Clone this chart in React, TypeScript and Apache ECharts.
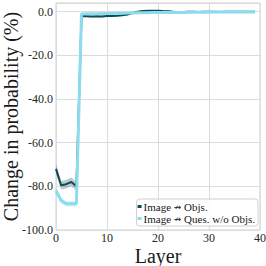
import React, { useEffect, useRef } from "react";
import * as echarts from "echarts";

const layers: number[] = Array.from({ length: 40 }, (_, i) => i);

const objsValues = [
  -72, -79.5, -79, -78, -80, -2, -2.1, -2.2, -2.1, -2.2, -2, -1.9, -1.8, -1.6, -1.3,
  -0.6, 0, 0.3, 0.4, 0.5, 0.5, 0.3, 0.2, 0, -0.1, -0.1, 0, 0, -0.1, 0, 0, 0, -0.1, 0,
  0, 0, 0, 0, 0, 0,
];
const objsErr = [
  2.5, 2, 2, 2, 2, 0.4, 0.4, 0.4, 0.4, 0.4, 0.4, 0.4, 0.4, 0.4, 0.3, 0.3, 0.3, 0.3,
  0.3, 0.3, 0.3, 0.2, 0.2, 0.2, 0.2, 0.2, 0.2, 0.2, 0.2, 0.2, 0.2, 0.2, 0.2, 0.2, 0.2,
  0.2, 0.2, 0.2, 0.2, 0.2,
];
const quesValues = [
  -82, -86.5, -88, -88, -88, -1, -0.9, -0.9, -0.9, -0.8, -0.8, -0.8, -0.7, -0.7, -0.6,
  -0.6, -0.5, -0.5, -0.5, -0.4, -0.4, -0.4, -0.3, -0.3, -0.3, -0.3, -0.2, -0.2, -0.2,
  -0.2, -0.2, -0.1, -0.1, -0.1, -0.1, -0.1, -0.1, -0.1, -0.1, -0.1,
];
const quesErr = [
  1.5, 1.5, 1.2, 1.2, 1.2, 0.3, 0.3, 0.3, 0.3, 0.3, 0.3, 0.3, 0.3, 0.3, 0.3, 0.3, 0.2,
  0.2, 0.2, 0.2, 0.2, 0.2, 0.2, 0.2, 0.2, 0.2, 0.2, 0.2, 0.2, 0.2, 0.2, 0.2, 0.2, 0.2,
  0.2, 0.2, 0.2, 0.2, 0.2, 0.2,
];

const yTicks = [-100, -80, -60, -40, -20, 0];
const xTicks = [0, 10, 20, 30, 40];

const ARROW = "\u219B";
const nameObjs = "Image " + ARROW + " Objs.";
const nameQues = "Image " + ARROW + " Ques. w/o Objs.";

const FONT = "Liberation Serif";
const DARK = "#0f4c56";
const LIGHT = "#8adcee";

export default function App() {
  const ref = useRef<HTMLDivElement>(null);
  useEffect(() => {
    if (!ref.current) return;
    const chart = echarts.init(ref.current, undefined, { renderer: "svg" });
    const pts = (vals: number[]) => layers.map((l, i) => [l, vals[i]]);
    const band = (vals: number[], err: number[], color: string, name: string) => ({
      name,
      type: "custom",
      silent: true,
      z: 1,
      data: [[0, 0]],
      encode: { x: 0, y: 1 },
      renderItem: (_params: any, api: any) => {
        const upper = layers.map((l, i) => api.coord([l, vals[i] + err[i]]));
        const lower = layers.map((l, i) => api.coord([l, vals[i] - err[i]])).reverse();
        return {
          type: "polygon",
          shape: { points: upper.concat(lower) },
          style: { fill: color, stroke: "none" },
        };
      },
    });
    chart.setOption({
      animation: false,
      textStyle: { fontFamily: FONT },
      grid: {
        left: 56,
        right: 6,
        top: 3,
        bottom: 36,
        show: true,
        borderColor: "#cfcfcf",
        borderWidth: 1,
        containLabel: false,
        outerBoundsMode: "none",
      },
      xAxis: {
        type: "value",
        min: xTicks[0],
        max: xTicks[xTicks.length - 1],
        interval: 10,
        name: "Layer",
        nameLocation: "middle",
        nameGap: 16,
        nameMoveOverlap: false,
        nameTextStyle: { fontFamily: FONT, fontSize: 20, color: "#1a1a1a" },
        axisLine: { show: false },
        axisTick: { show: false },
        axisLabel: { fontFamily: FONT, fontSize: 12, color: "#262626", margin: 2 },
        splitLine: { show: true, lineStyle: { color: "#dcdcdc", width: 1 } },
      },
      yAxis: {
        type: "value",
        min: yTicks[0],
        max: 4,
        interval: 20,
        name: "Change in probability (%)",
        nameLocation: "middle",
        nameGap: 35,
        nameMoveOverlap: false,
        nameTextStyle: { fontFamily: FONT, fontSize: 20, color: "#1a1a1a" },
        axisLine: { show: false },
        axisTick: { show: false },
        axisLabel: {
          fontFamily: FONT,
          fontSize: 12,
          color: "#262626",
          margin: 3,
          showMaxLabel: false,
          formatter: (v: number) => (yTicks.includes(v) ? v.toFixed(1) : ""),
        },
        splitLine: { show: true, lineStyle: { color: "#dcdcdc", width: 1 } },
      },
      legend: {
        data: [
          { name: nameObjs, icon: "rect" },
          { name: nameQues, icon: "rect" },
        ],
        orient: "vertical",
        right: 8,
        bottom: 40,
        itemWidth: 4,
        itemHeight: 3,
        itemGap: 1,
        padding: [2, 3, 2, 1],
        borderColor: "#d0d0d0",
        borderWidth: 1,
        borderRadius: 3,
        backgroundColor: "rgba(255,255,255,0.85)",
        formatter: (name: string) => name.replace(ARROW, "{a|" + ARROW + "}"),
        textStyle: {
          fontFamily: FONT,
          fontSize: 11,
          color: "#1a1a1a",
          padding: [0, 0, 0, -3],
          rich: {
            a: { fontFamily: "DejaVu Sans", fontSize: 9, color: "#1a1a1a" },
          },
        },
      },
      series: [
        band(objsValues, objsErr, "rgba(15,76,86,0.28)", "objs-band"),
        band(quesValues, quesErr, "rgba(138,220,238,0.35)", "ques-band"),
        {
          name: nameObjs,
          type: "line",
          data: pts(objsValues),
          showSymbol: false,
          symbol: "none",
          itemStyle: { color: DARK },
          lineStyle: { color: DARK, width: 2 },
          z: 3,
        },
        {
          name: nameQues,
          type: "line",
          data: pts(quesValues),
          showSymbol: false,
          symbol: "none",
          itemStyle: { color: LIGHT },
          lineStyle: { color: LIGHT, width: 3 },
          z: 4,
        },
      ],
    });
    return () => chart.dispose();
  }, []);
  return <div ref={ref} style={{ width: 266, height: 266, position: "absolute", left: 0, top: 0 }} />;
}
